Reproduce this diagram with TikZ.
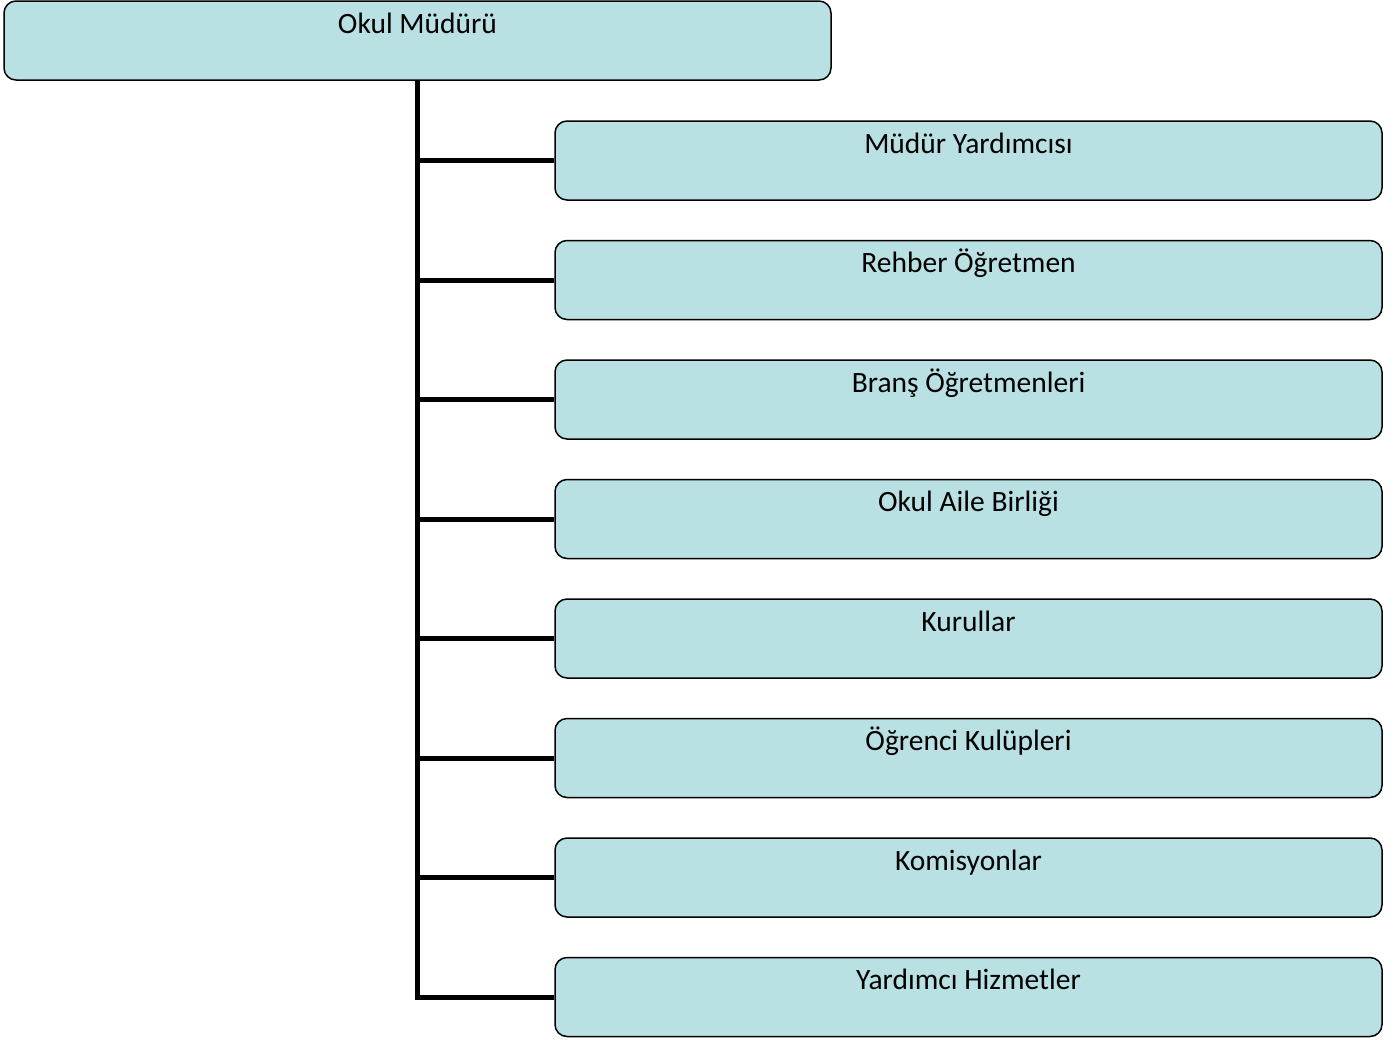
\documentclass[tikz,border=0pt]{standalone}
\usepackage{fontspec}
\setmainfont{Carlito}
\definecolor{boxfill}{RGB}{185,224,227}
\begin{document}
\begin{tikzpicture}[x=1pt,y=-1pt,
  orgbox/.style={draw=black, line width=1.5pt, fill=boxfill, rounded corners=12pt, inner sep=0pt, minimum height=79pt},
  topbox/.style={orgbox, minimum width=827pt},
  childbox/.style={orgbox, minimum width=827pt},
  boxlabel/.style={anchor=base, font=\fontsize{29.5}{35}\selectfont, inner sep=0pt},
  trunk/.style={draw=black, line width=5pt, line join=miter}]
\useasboundingbox (0,0) rectangle (1397,1039);
\node[topbox] (top) at (417.5,40.5) {};
\node[boxlabel] (ttop) at ([yshift=-33pt]top.north) {Okul Müdürü};
\foreach \i/\t in {1/Müdür Yardımcısı,2/Rehber Öğretmen,3/Branş Öğretmenleri,4/Okul Aile Birliği,5/Kurullar,6/Öğrenci Kulüpleri,7/Komisyonlar,8/Yardımcı Hizmetler}{
  \node[childbox] (b\i) at (968.5,{121+(\i-1)*119.5+39.5}) {};
  \node[boxlabel] (t\i) at ([yshift=-33pt]b\i.north) {\t};
}
\draw[trunk] (top.south) -- (top.south |- b8.west) -- (b8.west);
\foreach \i in {1,...,7}{
  \draw[trunk] (top.south |- b\i.west) -- (b\i.west);
}
\end{tikzpicture}
\end{document}
